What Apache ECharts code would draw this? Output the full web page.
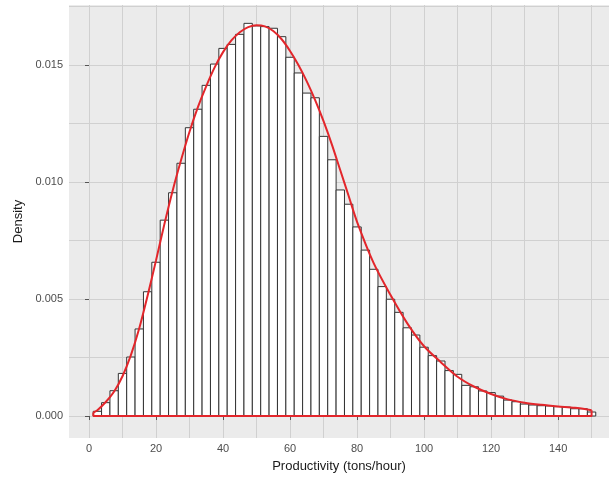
<!DOCTYPE html>
<html>
<head>
<meta charset="utf-8">
<script src="https://cdn.jsdelivr.net/npm/echarts@6/dist/echarts.min.js"></script>
<style>
  html, body { margin: 0; padding: 0; background: #fff; }
  #chart { width: 609px; height: 479px; }
</style>
</head>
<body>
<div id="chart"></div>
<script>
// histogram bins (centre of each 2.5-wide bin) and their densities
const binWidth = 2.5
const binCenters = [
  2.5, 5, 7.5, 10, 12.5, 15, 17.5, 20, 22.5, 25,
  27.5, 30, 32.5, 35, 37.5, 40, 42.5, 45, 47.5, 50,
  52.5, 55, 57.5, 60, 62.5, 65, 67.5, 70, 72.5, 75,
  77.5, 80, 82.5, 85, 87.5, 90, 92.5, 95, 97.5, 100,
  102.5, 105, 107.5, 110, 112.5, 115, 117.5, 120, 122.5, 125,
  127.5, 130, 132.5, 135, 137.5, 140, 142.5, 145, 147.5, 150,
]
const binDensity = [
  0.00020, 0.00057, 0.00108, 0.00182, 0.00252, 0.00372, 0.00531, 0.00657, 0.00837, 0.00954,
  0.01080, 0.01232, 0.01311, 0.01413, 0.01504, 0.01571, 0.01588, 0.01631, 0.01678, 0.01667,
  0.01664, 0.01657, 0.01621, 0.01533, 0.01466, 0.01380, 0.01360, 0.01195, 0.01095, 0.00966,
  0.00905, 0.00808, 0.00709, 0.00627, 0.00553, 0.00499, 0.00443, 0.00377, 0.00346, 0.00294,
  0.00258, 0.00235, 0.00194, 0.00178, 0.00131, 0.00125, 0.00107, 0.00100, 0.00085, 0.00068,
  0.00061, 0.00051, 0.00047, 0.00044, 0.00043, 0.00040, 0.00038, 0.00031, 0.00031, 0.00017,
]

// kernel density curve
const curveX = [
  1.3, 2.5, 5, 7.5, 10, 12.5, 15, 17.5, 20, 22.5,
  25, 27.5, 30, 32.5, 35, 37.5, 40, 42.5, 45, 47.5,
  50, 52.5, 55, 57.5, 60, 62.5, 65, 67.5, 70, 72.5,
  75, 77.5, 80, 85, 90, 95, 100, 105, 110, 115,
  120, 125, 130, 135, 140, 145, 150,
]
const curveY = [
  0.00015, 0.00025, 0.00060, 0.00105, 0.00170, 0.00260, 0.00375, 0.00515, 0.00665, 0.00820,
  0.00965, 0.01095, 0.01215, 0.01320, 0.01410, 0.01490, 0.01555, 0.01605, 0.01640, 0.01662,
  0.01670, 0.01665, 0.01645, 0.01610, 0.01560, 0.01500, 0.01430, 0.01350, 0.01260, 0.01160,
  0.01050, 0.00940, 0.00830, 0.00652, 0.00517, 0.00396, 0.00298, 0.00230, 0.00168, 0.00125,
  0.00094, 0.00071, 0.00057, 0.00048, 0.00041, 0.00035, 0.00025,
]

// axes
const xTicks = [0, 20, 40, 60, 80, 100, 120, 140]
const xGrid = [0, 10, 20, 30, 40, 50, 60, 70, 80, 90, 100, 110, 120, 130, 140, 150]
const yTicks = [0, 0.005, 0.01, 0.015]
const yGrid = [0, 0.0025, 0.005, 0.0075, 0.01, 0.0125, 0.015, 0.0175]
const xMin = -5.97
const xMax = 155.2
const yMin = -0.00094
const yMax = 0.017564

const font = 'Liberation Sans, Arial, sans-serif'

const histData = binCenters.map((c, i) => [c, binDensity[i]])
const curveData = curveX.map((x, i) => [x, curveY[i]])
const last = curveX.length - 1
// closing edges of the density polygon (down to zero and along the baseline)
const outlineData = [
  [curveX[0], curveY[0]],
  [curveX[0], 0],
  [curveX[last], 0],
  [curveX[last], curveY[last]],
]

const chart = echarts.init(document.getElementById('chart'))
chart.setOption({
  animation: false,
  textStyle: { fontFamily: font },
  grid: {
    left: 69,
    right: 0,
    top: 5,
    bottom: 41,
    show: true,
    backgroundColor: '#ebebeb',
    borderWidth: 0,
  },
  xAxis: [
    {
      type: 'value',
      min: xMin,
      max: xMax,
      name: 'Productivity (tons/hour)',
      nameLocation: 'middle',
      nameGap: 22,
      nameTextStyle: { color: '#1a1a1a', fontSize: 13, fontFamily: font },
      axisLine: { show: false },
      axisTick: { customValues: xTicks, length: 4, lineStyle: { color: '#555' } },
      axisLabel: { customValues: xTicks, color: '#4d4d4d', fontSize: 11, margin: 5, fontFamily: font },
      splitLine: { show: false },
    },
    {
      // only used for the panel grid lines
      type: 'value',
      min: xMin,
      max: xMax,
      position: 'bottom',
      axisLine: { show: false },
      axisTick: { show: false, customValues: xGrid },
      axisLabel: { show: false },
      splitLine: { show: true, lineStyle: { color: '#d0d0d0', width: 1 } },
    },
  ],
  yAxis: [
    {
      type: 'value',
      min: yMin,
      max: yMax,
      name: 'Density',
      nameLocation: 'middle',
      nameGap: 44,
      nameRotate: 90,
      nameTextStyle: { color: '#1a1a1a', fontSize: 13, fontFamily: font },
      axisLine: { show: false },
      axisTick: { show: true, customValues: yTicks, length: 4, lineStyle: { color: '#555' } },
      axisLabel: {
        customValues: yTicks,
        color: '#4d4d4d',
        fontSize: 11,
        margin: 6,
        fontFamily: font,
        formatter: (v) => v.toFixed(3),
      },
      splitLine: { show: false },
    },
    {
      type: 'value',
      min: yMin,
      max: yMax,
      position: 'left',
      axisLine: { show: false },
      axisTick: { show: false, customValues: yGrid },
      axisLabel: { show: false },
      splitLine: { show: true, lineStyle: { color: '#d0d0d0', width: 1 } },
    },
  ],
  series: [
    {
      type: 'custom',
      xAxisIndex: 0,
      yAxisIndex: 0,
      data: histData,
      renderItem: function (params, api) {
        const c = api.value(0)
        const h = api.value(1)
        const p0 = api.coord([c - binWidth / 2, h])
        const p1 = api.coord([c + binWidth / 2, 0])
        return {
          type: 'rect',
          shape: { x: p0[0], y: p0[1], width: p1[0] - p0[0], height: p1[1] - p0[1] },
          style: { fill: '#ffffff', stroke: '#333333', lineWidth: 1 },
        }
      },
      z: 2,
    },
    {
      type: 'line',
      xAxisIndex: 0,
      yAxisIndex: 0,
      data: curveData,
      smooth: 0.3,
      showSymbol: false,
      lineStyle: { color: '#e3262b', width: 2 },
      z: 3,
    },
    {
      type: 'line',
      xAxisIndex: 0,
      yAxisIndex: 0,
      data: outlineData,
      showSymbol: false,
      lineStyle: { color: '#e3262b', width: 2 },
      z: 3,
    },
  ],
})
</script>
</body>
</html>
